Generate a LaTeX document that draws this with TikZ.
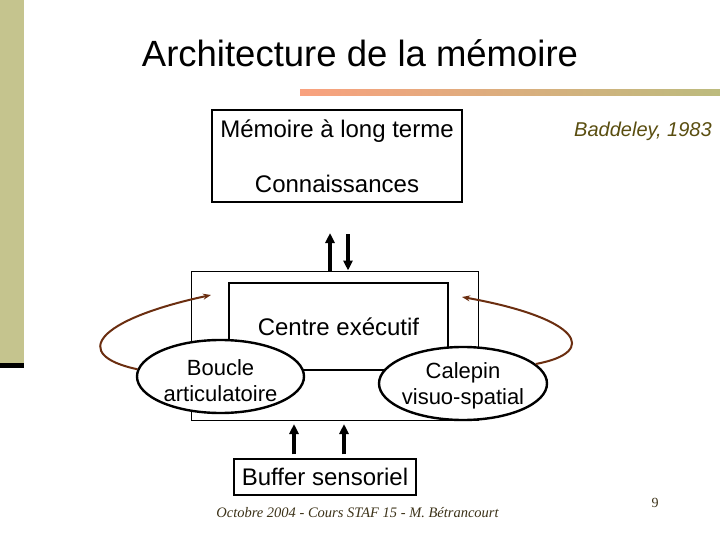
\documentclass[tikz,border=0pt]{standalone}
\usepackage{fontspec}
\setmainfont{Liberation Sans}
\newfontfamily\serifit{Liberation Serif}
\usetikzlibrary{shapes.geometric,arrows.meta}
\definecolor{olivebar}{RGB}{197,196,142}
\definecolor{salmon}{RGB}{249,161,126}
\definecolor{midgrad}{RGB}{222,172,124}
\definecolor{olivegrad}{RGB}{188,187,126}
\definecolor{baddeleycol}{RGB}{90,78,16}
\definecolor{footercol}{RGB}{60,50,24}
\definecolor{brownarr}{RGB}{107,46,16}
\begin{document}
\begin{tikzpicture}[x=1pt,y=-1pt,
  frame/.style={draw, rectangle, inner sep=0pt, line width=1.2pt},
  txt/.style={anchor=base, inner sep=0pt, font=\fontsize{24}{27}\selectfont},
  etxt/.style={anchor=base, inner sep=0pt, font=\fontsize{22}{26}\selectfont},
  oval/.style={draw, ellipse, fill=white, line width=2.4pt, inner sep=0pt},
  bigarrow/.style={line width=3.2pt, -{Triangle[length=10pt,width=9pt]}},
  looparrow/.style={draw=brownarr, line width=2pt, -{Stealth[length=8pt,width=6pt]}}
]
\useasboundingbox (0,0) rectangle (720,540);
\fill[white] (0,0) rectangle (720,540);
\fill[olivebar] (0,0) rectangle (24,363);
\fill[black] (0,363) rectangle (24,368);
\node[anchor=base, inner sep=0pt, font=\fontsize{36.5}{40}\selectfont] (title) at (360,67) {Architecture de la mémoire};
\shade[left color=salmon, middle color=midgrad, right color=olivegrad] (300,90) rectangle (720,96);

% long-term memory
\node[frame, minimum width=250, minimum height=92] (ltm) at (337,156) {};
\node[txt] (ltmA) at (337,138) {Mémoire à long terme};
\node[txt] (ltmB) at (337,193) {Connaissances};
\node[anchor=base, inner sep=0pt, font=\itshape\fontsize{20}{24}\selectfont, text=baddeleycol] (bad) at (643,137) {Baddeley, 1983};

% working memory
\node[frame, line width=1pt, minimum width=287, minimum height=149] (outer) at (334.5,345.5) {};
\node[frame, line width=2pt, minimum width=219, minimum height=87, fill=white] (centre) at (338.5,326.5) {};
\node[txt] (centreT) at (338.5,335) {Centre exécutif};

\coordinate (lEnd) at (211,295);
\coordinate (rEnd) at (462,297);

\node[oval, minimum width=167, minimum height=73] (boucle) at (220.5,376.5) {};
\node[etxt] (boucleA) at (220.5,375) {Boucle};
\node[etxt] (boucleB) at (220.5,401) {articulatoire};

\node[oval, minimum width=168, minimum height=73] (calepin) at (463,383.5) {};
\node[etxt] (calepinA) at (463,378) {Calepin};
\node[etxt] (calepinB) at (463,404) {visuo-spatial};

\draw[looparrow] (boucle.175) .. controls (70,355) and (95,320) .. (lEnd);
\draw[looparrow] (calepin.15) .. controls (600,352) and (580,318) .. (rEnd);

% arrows to/from LTM
\coordinate (upTip) at (330,233);
\coordinate (downStart) at (348,234);
\draw[bigarrow] (outer.north -| upTip) -- (upTip);
\draw[bigarrow] (downStart) -- (outer.north -| downStart);

% sensory buffer
\node[frame, minimum width=182, minimum height=36] (buffer) at (325,477) {};
\node[txt] (bufferT) at (325,485) {Buffer sensoriel};
\coordinate (b1) at (294,424);
\coordinate (b2) at (344,424);
\draw[bigarrow, shorten <=4pt] (buffer.north -| b1) -- (b1);
\draw[bigarrow, shorten <=4pt] (buffer.north -| b2) -- (b2);

% footer
\node[anchor=base, inner sep=0pt, font=\serifit\itshape\fontsize{14.5}{16}\selectfont, text=footercol] (foot) at (357.5,517) {Octobre 2004 - Cours STAF 15 - M. Bétrancourt};
\node[anchor=base, inner sep=0pt, font=\serifit\fontsize{14}{16}\selectfont, text=footercol] (page) at (655,507) {9};
\end{tikzpicture}
\end{document}
